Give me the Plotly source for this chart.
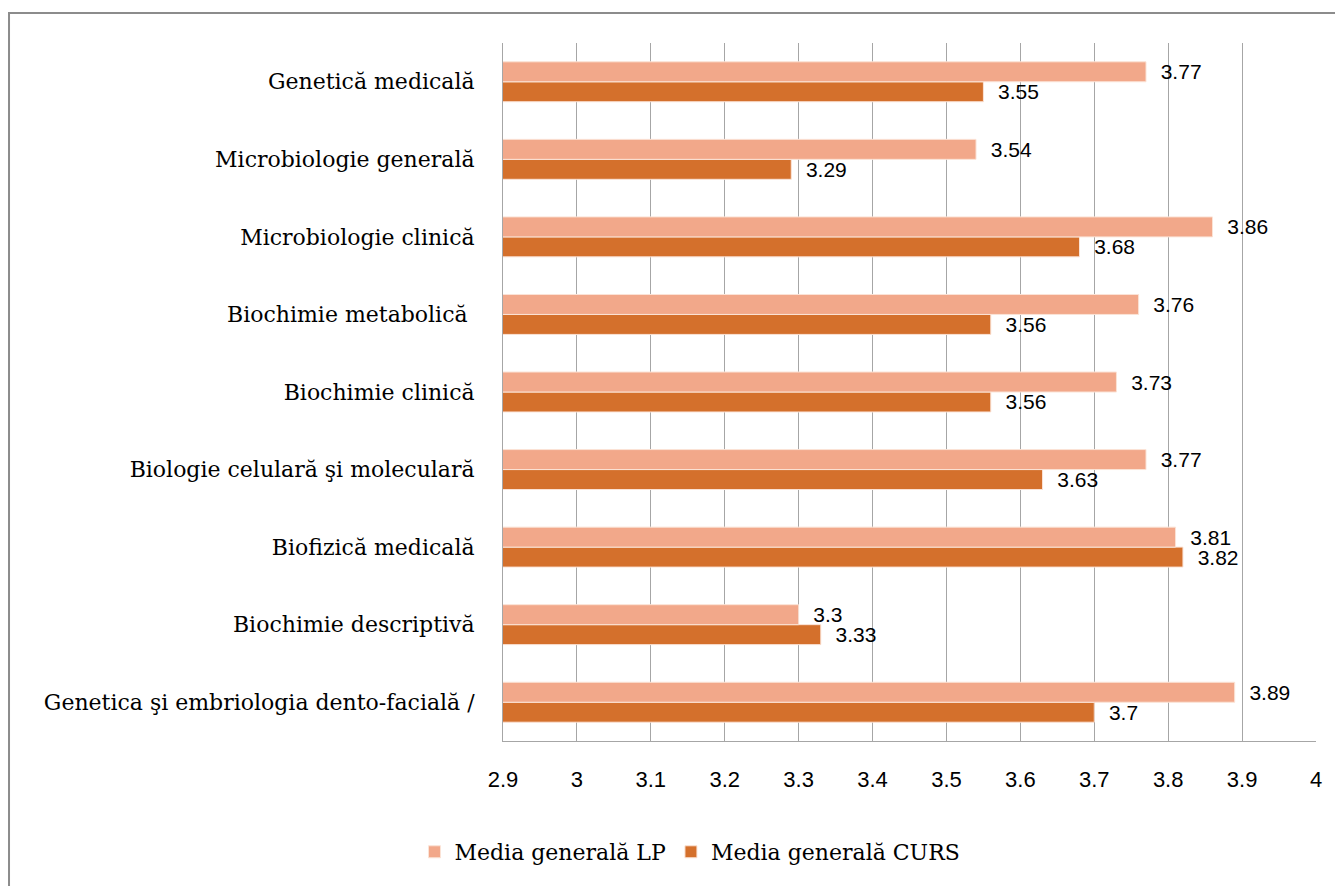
import plotly.graph_objects as go

categories = [
    "Genetică medicală",
    "Microbiologie generală",
    "Microbiologie clinică",
    "Biochimie metabolică ",
    "Biochimie clinică",
    "Biologie celulară şi moleculară",
    "Biofizică medicală",
    "Biochimie descriptivă",
    "Genetica şi embriologia dento-facială /",
]
lp_values = [3.77, 3.54, 3.86, 3.76, 3.73, 3.77, 3.81, 3.30, 3.89]
curs_values = [3.55, 3.29, 3.68, 3.56, 3.56, 3.63, 3.82, 3.33, 3.70]
lp_labels = ["3.77", "3.54", "3.86", "3.76", "3.73", "3.77", "3.81", "3.3", "3.89"]
curs_labels = ["3.55", "3.29", "3.68", "3.56", "3.56", "3.63", "3.82", "3.33", "3.7"]
tick_vals = [2.9, 3.0, 3.1, 3.2, 3.3, 3.4, 3.5, 3.6, 3.7, 3.8, 3.9, 4.0]
tick_text = ["2.9", "3", "3.1", "3.2", "3.3", "3.4", "3.5", "3.6", "3.7", "3.8", "3.9", "4"]

LP_COLOR = "#F2A88A"
CURS_COLOR = "#D4702C"
label_font = dict(family="Liberation Sans, Arial, sans-serif", size=21, color="#000000")
tick_font = dict(family="Liberation Sans, Arial, sans-serif", size=22, color="#000000")
serif = "DejaVu Serif, Liberation Serif, serif"

fig = go.Figure()
cats_rev = categories[::-1]
fig.add_trace(go.Bar(
    name="Media generală CURS",
    y=cats_rev, x=curs_values[::-1],
    orientation="h",
    marker=dict(color=CURS_COLOR, line=dict(color="#FBE3D6", width=1)),
    text=curs_labels[::-1], texttemplate="  %{text}",
    textposition="outside", textfont=label_font, constraintext="none",
    cliponaxis=False,
))
fig.add_trace(go.Bar(
    name="Media generală LP",
    y=cats_rev, x=lp_values[::-1],
    orientation="h",
    marker=dict(color=LP_COLOR, line=dict(color="#FBE3D6", width=1)),
    text=lp_labels[::-1], texttemplate="  %{text}",
    textposition="outside", textfont=label_font, constraintext="none",
    cliponaxis=False,
))

fig.update_layout(
    width=1343, height=886,
    barmode="group", bargap=0.485, bargroupgap=0,
    paper_bgcolor="white", plot_bgcolor="white",
    margin=dict(l=495, r=35, t=35, b=153),
    showlegend=True,
    legend=dict(orientation="h", x=0.23, xanchor="center", y=-0.159, yanchor="middle",
                font=dict(family=serif, size=22, color="#000000"),
                traceorder="reversed"),
    font=dict(family=serif, color="#000000"),
    shapes=[dict(type="rect", xref="paper", yref="paper",
                 x0=-0.6076, x1=1.2, y0=-0.4, y1=1.043,
                 line=dict(color="#8C8C8C", width=2), layer="below")],
)
fig.update_xaxes(
    range=[2.9, 4.0], tickvals=tick_vals, ticktext=tick_text,
    showgrid=True, gridcolor="#A6A6A6", gridwidth=1,
    showline=True, linecolor="#A6A6A6", linewidth=1,
    ticks="", tickfont=tick_font, zeroline=False, ticklabelstandoff=19,
)
fig.update_yaxes(
    showline=True, linecolor="#A6A6A6", linewidth=1,
    ticks="", tickfont=dict(family=serif, size=22, color="#000000"),
    ticklabelstandoff=23,
)

fig.write_html("out.html")
